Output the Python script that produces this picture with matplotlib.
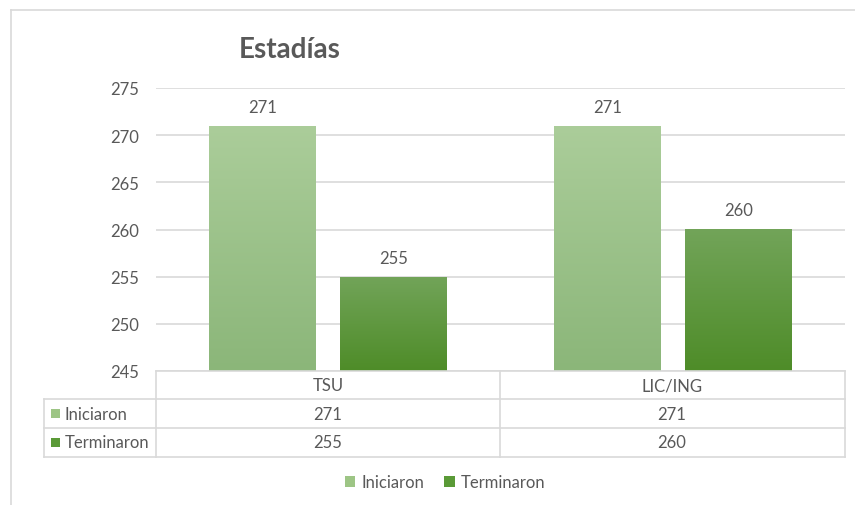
import numpy as np
import matplotlib.pyplot as plt
from matplotlib.patches import Patch, Rectangle
from matplotlib.lines import Line2D
from matplotlib.colors import LinearSegmentedColormap
import matplotlib.patheffects as pe

plt.rcParams['font.family'] = ['Lato', 'DejaVu Sans']

# ---------- Data ----------
categories = ["TSU", "LIC/ING"]
series_names = ["Iniciaron", "Terminaron"]
iniciaron = [271, 271]
terminaron = [255, 260]
y_ticks = [245, 250, 255, 260, 265, 270, 275]

TEXT = "#595959"
GRID = "#D9D9D9"
FS = 12
# gradient (top, bottom) for each series
grad_ini = ("#ABCD9A", "#8BB679")
grad_ter = ("#72A459", "#4E8C28")
solid_ini = "#9DC585"
solid_ter = "#5A9A37"

W, H = 855, 506
fig = plt.figure(figsize=(W / 100, H / 100), dpi=100)

def fx(px):
    return px / W

def fy(py):
    return 1 - py / H

ax = fig.add_axes([fx(156), fy(372), fx(845) - fx(156), fy(89) - fy(372)])
ax.set_xlim(-0.5, 1.5)
ax.set_ylim(245, 275)
ax.set_yticks(y_ticks)
ax.set_xticks([])
ax.tick_params(axis='y', length=0, pad=12, labelsize=FS, labelcolor=TEXT)
for s in ax.spines.values():
    s.set_visible(False)
ax.grid(axis='y', color=GRID, linewidth=1.2)
ax.set_axisbelow(True)

x = np.arange(len(categories))
width = 0.31
offset = 0.19


def gradient_bars(xs, vals, colors):
    bars = ax.bar(xs, [v - 245 for v in vals], width, bottom=245,
                  color=colors[1], edgecolor='none', zorder=2)
    cmap = LinearSegmentedColormap.from_list("g", [colors[1], colors[0]])
    grad = np.linspace(0, 1, 256).reshape(-1, 1)
    for b in bars:
        b.set_path_effects([pe.SimplePatchShadow(offset=(0, 0), shadow_rgbFace="#9a9a9a", alpha=0.35),
                            pe.Normal()])
        bx, by = b.get_x(), b.get_y()
        im = ax.imshow(grad, cmap=cmap, origin='lower', aspect='auto',
                       extent=[bx, bx + b.get_width(), by, by + b.get_height()],
                       zorder=3)
        im.set_clip_path(b)
    for b, v in zip(bars, vals):
        ax.annotate(str(v), (b.get_x() + b.get_width() / 2, v),
                    xytext=(0, 8), textcoords='offset points',
                    ha='center', va='bottom', fontsize=FS, color=TEXT)
    return bars

gradient_bars(x - offset, iniciaron, grad_ini)
gradient_bars(x + offset, terminaron, grad_ter)
ax.set_xlim(-0.5, 1.5)
ax.set_ylim(245, 275)


# ---------- data table under the plot ----------
def hline(y, x0, x1):
    fig.add_artist(Line2D([fx(x0), fx(x1)], [fy(y), fy(y)], color=GRID, lw=1.2))

def vline(xp, y0, y1):
    fig.add_artist(Line2D([fx(xp), fx(xp)], [fy(y0), fy(y1)], color=GRID, lw=1.2))

hline(372, 156, 845)
for yy in (400, 429, 458):
    hline(yy, 44, 845)
for xx in (156, 500, 845):
    vline(xx, 372, 458)
vline(44, 400, 458)

col_centers = [328, 672]
row_centers = [386, 414.5, 443.5]
for cx, cat in zip(col_centers, categories):
    fig.text(fx(cx), fy(row_centers[0]), cat, ha='center', va='center',
             fontsize=FS, color=TEXT)
for row, vals in zip(row_centers[1:], [iniciaron, terminaron]):
    for cx, v in zip(col_centers, vals):
        fig.text(fx(cx), fy(row), str(v), ha='center', va='center',
                 fontsize=FS, color=TEXT)

for row, name, c in zip(row_centers[1:], series_names, [solid_ini, solid_ter]):
    fig.add_artist(Rectangle((fx(51), fy(row + 4.5)), fx(9), 9 / H,
                             facecolor=c, edgecolor='none'))
    fig.text(fx(65), fy(row), name, ha='left', va='center',
             fontsize=FS, color=TEXT)

# ---------- title, legend, outer frame ----------
fig.text(fx(290), fy(50), "Estadías", ha='center', va='center',
         fontsize=20, fontweight='bold', color=TEXT)

handles = [Patch(facecolor=solid_ini, edgecolor='none'),
           Patch(facecolor=solid_ter, edgecolor='none')]
fig.legend(handles, series_names, loc='center', bbox_to_anchor=(fx(445), fy(483)),
           ncol=2, frameon=False, fontsize=FS, labelcolor=TEXT,
           handlelength=0.65, handleheight=0.65, handletextpad=0.35, columnspacing=1.2)

hline(11, 11, 855)
vline(11, 11, 506)

fig.savefig("out.png", dpi=100)
